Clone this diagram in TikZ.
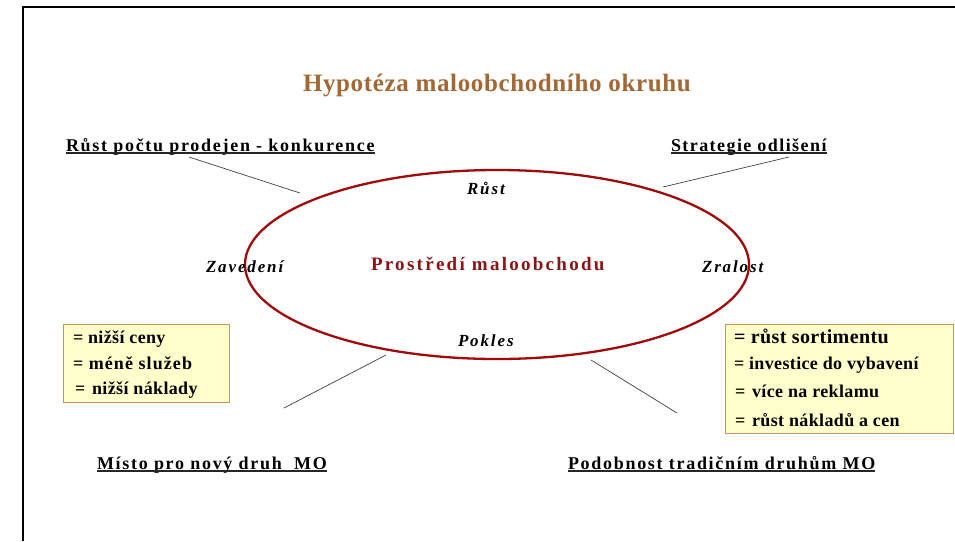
\documentclass[tikz,border=0pt]{standalone}
\usepackage{fontspec}
\setmainfont{Liberation Serif}
\newfontfamily\fTitle[LetterSpace=2.5]{Liberation Serif}
\newfontfamily\fHead[LetterSpace=9.5]{Liberation Serif}
\newfontfamily\fHeadB[LetterSpace=8]{Liberation Serif}
\newfontfamily\fPhase[LetterSpace=11]{Liberation Serif}
\newfontfamily\fEnv[LetterSpace=12]{Liberation Serif}
\newfontfamily\fBox[LetterSpace=2]{Liberation Serif}
\newfontfamily\fBoxW[LetterSpace=6]{Liberation Serif}
\usetikzlibrary{shapes.geometric}
\definecolor{titlebrown}{RGB}{163,103,52}
\definecolor{ellred}{RGB}{160,10,10}
\definecolor{envred}{RGB}{140,20,20}
\definecolor{boxfill}{RGB}{255,255,204}
\definecolor{boxedge}{RGB}{200,150,90}
\tikzset{
  txt/.style={inner sep=0pt, outer sep=0pt, anchor=base west},
  titletxt/.style={txt, text=titlebrown, font=\fTitle\bfseries\fontsize{25}{25}\selectfont},
  headtxt/.style={txt, font=\fHead\bfseries\fontsize{18}{18}\selectfont},
  headtxtb/.style={txt, font=\fHeadB\bfseries\fontsize{18}{18}\selectfont},
  phasetxt/.style={txt, font=\fPhase\bfseries\itshape\fontsize{17}{17}\selectfont},
  envtxt/.style={txt, text=envred, font=\fEnv\bfseries\fontsize{19}{19}\selectfont},
  boxtxt/.style={txt, font=\fBox\bfseries\fontsize{18}{18}\selectfont},
  boxtxtw/.style={txt, font=\fBoxW\bfseries\fontsize{18}{18}\selectfont},
  bigboxtxt/.style={txt, font=\fBox\bfseries\fontsize{20}{20}\selectfont},
  infobox/.style={draw=boxedge, fill=boxfill, line width=1.2pt, anchor=north west, inner sep=0pt},
  conn/.style={draw=black!75, line width=0.7pt},
  uline/.style={draw=black!85, line width=1.7pt},
  frame/.style={draw=black, line width=2pt}
}
\begin{document}
\begin{tikzpicture}[x=1pt,y=-1pt]
\useasboundingbox (0,0) rectangle (955,541);
% frame
\coordinate (fa) at (23,541);
\coordinate (fb) at (23,7);
\coordinate (fc) at (956,7);
\draw[frame] (fa) -- (fb) -- (fc);
% title
\node[titletxt] (title) at (303,91) {Hypotéza maloobchodního okruhu};
% headings
\node[headtxt] (h1) at (66,151) {Růst počtu prodejen - konkurence};
\node[headtxtb] (h2) at (671,151) {Strategie odlišení};
\node[headtxt] (h3) at (97,469) {Místo pro nový druh~~MO};
\node[headtxt] (h4) at (568,469) {Podobnost tradičním druhům MO};
\draw[uline] ([yshift=-2.3pt]h1.base west) -- ([yshift=-2.3pt]h1.base east);
\draw[uline] ([yshift=-2pt]h2.base west) -- ([yshift=-2pt]h2.base east);
\draw[uline] ([yshift=-2.3pt]h3.base west) -- ([yshift=-2.3pt]h3.base east);
\draw[uline] ([yshift=-2pt]h4.base west) -- ([yshift=-2pt]h4.base east);
% ellipse
\node[draw=ellred, line width=2.3pt, ellipse, minimum width=504pt, minimum height=189pt, inner sep=0pt] (env) at (497,264.5) {};
\node[envtxt] (envlabel) at (371,270) {Prostředí maloobchodu};
% phases
\node[phasetxt] (rust) at (467,194) {Růst};
\node[phasetxt] (zav) at (206,272) {Zavedení};
\node[phasetxt] (zral) at (702,272.5) {Zralost};
\node[phasetxt] (pok) at (458,346.5) {Pokles};
% connectors
\coordinate (c1a) at (189,157); \coordinate (c1b) at (300,193);
\coordinate (c2a) at (789,157); \coordinate (c2b) at (663,187);
\coordinate (c3a) at (386,355); \coordinate (c3b) at (284,408);
\coordinate (c4a) at (591,360); \coordinate (c4b) at (677,413);
\draw[conn] (c1a) -- (c1b);
\draw[conn] (c2a) -- (c2b);
\draw[conn] (c3a) -- (c3b);
\draw[conn] (c4a) -- (c4b);
% left box
\node[infobox, minimum width=166pt, minimum height=78pt] (lbox) at (63,324) {};
\node[boxtxt] (l1) at (73,343) {= nižší ceny};
\node[boxtxtw] (l2) at (73,369) {= méně služeb};
\node[boxtxt] (l3) at (75,394) {=\kern2pt\ nižší náklady};
% right box
\node[infobox, minimum width=228pt, minimum height=109pt] (rbox) at (725,324) {};
\node[bigboxtxt] (r1) at (734,343) {= růst sortimentu};
\node[boxtxt] (r2) at (734,369) {= investice do vybavení};
\node[boxtxt] (r3) at (735,397) {=\kern2pt\ více na reklamu};
\node[boxtxt] (r4) at (735,426) {=\kern2pt\ růst nákladů a cen};
\end{tikzpicture}
\end{document}
